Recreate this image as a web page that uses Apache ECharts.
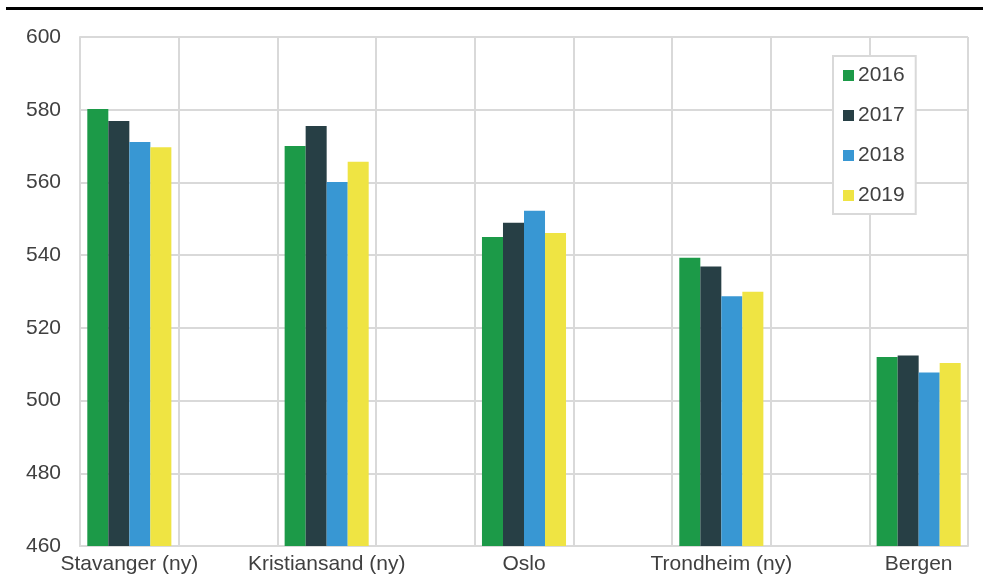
<!DOCTYPE html>
<html>
<head>
<meta charset="utf-8">
<script src="https://cdn.jsdelivr.net/npm/echarts@6/dist/echarts.min.js"></script>
<style>
  html, body { margin:0; padding:0; background:#fff; }
  #chart { width:983px; height:585px; }
</style>
</head>
<body>
<div id="chart"></div>
<script>
// empty slots between towns, as in the original sheet
const categories = ['Stavanger (ny)', '', 'Kristiansand (ny)', '', 'Oslo', '', 'Trondheim (ny)', '', 'Bergen'];
const years = ['2016', '2017', '2018', '2019'];
const values2016 = [580.2, null, 570.0, null, 545.0, null, 539.3, null, 512.0];
const values2017 = [576.9, null, 575.5, null, 548.9, null, 536.9, null, 512.4];
const values2018 = [571.1, null, 560.1, null, 552.2, null, 528.7, null, 507.7];
const values2019 = [569.7, null, 565.7, null, 546.1, null, 529.9, null, 510.3];
const colors = ['#1c9a48', '#273f45', '#3897d3', '#efe443'];

const gridGray = '#d9d9d9';
const textColor = '#404040';
const font = 'Liberation Sans, Arial, sans-serif';

let myChart = echarts.init(document.getElementById('chart'));
let seriesData = [values2016, values2017, values2018, values2019];

let option = {
    animation:false,
    color:colors,
    graphic:[
        {
            type:'rect',
            shape:{ x:6, y:7, width:977, height:3 },
            style:{ fill:'#000' }
        }
    ],
    grid:{
        left:80,
        right:15,
        top:37,
        bottom:39
    },
    legend:{
        orient:'vertical',
        left:833,
        top:56,
        data:years,
        icon:'rect',
        itemWidth:11,
        itemHeight:11,
        itemGap:19,
        padding:[9, 11, 8, 10],
        borderColor:gridGray,
        borderWidth:2,
        backgroundColor:'#fff',
        selectedMode:false,
        textStyle:{
            color:textColor,
            fontSize:21,
            fontFamily:font,
            padding:[0, 0, 0, -1]
        }
    },
    xAxis:{
        type:'category',
        data:categories,
        axisLine:{ lineStyle:{ color:gridGray, width:2 } },
        axisTick:{ show:false },
        splitLine:{
            show:true,
            interval:0,
            lineStyle:{ color:gridGray, width:2 }
        },
        axisLabel:{
            interval:0,
            color:textColor,
            fontSize:21,
            fontFamily:font,
            margin:8
        }
    },
    yAxis:{
        type:'value',
        min:460,
        max:600,
        interval:20,
        axisLine:{ show:true, lineStyle:{ color:gridGray, width:2 } },
        axisTick:{ show:false },
        splitLine:{ lineStyle:{ color:gridGray, width:2 } },
        axisLabel:{
            color:textColor,
            fontSize:21,
            fontFamily:font,
            margin:19
        }
    },
    series:years.map((name, i)=>({
        name,
        type:'bar',
        data:seriesData[i],
        barGap:'0%',
        barCategoryGap:'14.8%',
        itemStyle:{ color:colors[i] }
    }))
};
myChart.setOption(option);
</script>
</body>
</html>
